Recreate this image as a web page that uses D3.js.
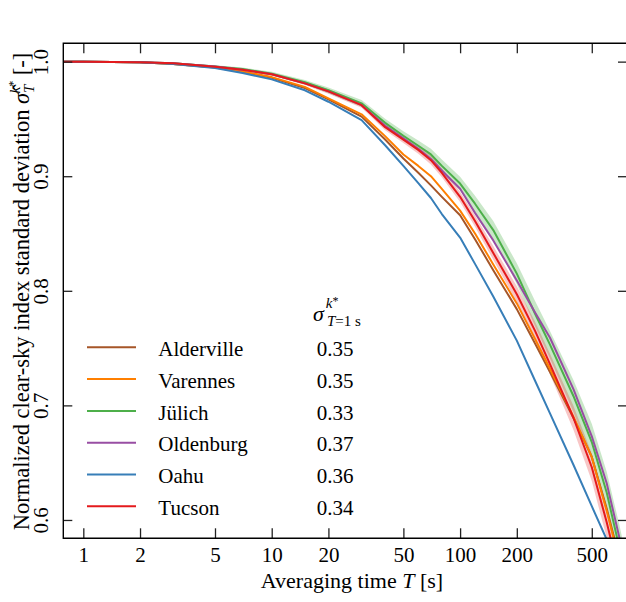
<!DOCTYPE html>
<html>
<head>
<meta charset="utf-8">
<script src="https://cdn.jsdelivr.net/npm/d3@7"></script>
<style>
body{margin:0;background:#fff;}
</style>
</head>
<body>
<svg id="chart" width="626" height="602" style="font-family:'Liberation Serif','Times New Roman',Times,'DejaVu Serif',serif"></svg>
<script>
//averaging time T [s]
let times = [0.5, 1, 2, 3, 5, 7, 10, 15, 20, 30, 40, 50, 60, 70, 80, 100, 120, 150, 200, 250, 300, 400, 500, 600, 700, 800]
//normalized clear-sky index std per site
let alderville = [1.0, 1.0, 0.9994, 0.998, 0.9948, 0.991, 0.986, 0.977, 0.967, 0.952, 0.932, 0.9155, 0.903, 0.892, 0.882, 0.866, 0.845, 0.818, 0.784, 0.754, 0.729, 0.689, 0.655, 0.610, 0.567, 0.53]
let varennes = [1.0, 1.0, 0.9994, 0.998, 0.995, 0.9915, 0.9865, 0.978, 0.968, 0.954, 0.935, 0.919, 0.909, 0.900, 0.889, 0.870, 0.850, 0.823, 0.789, 0.758, 0.732, 0.690, 0.655, 0.608, 0.565, 0.525]
let julich = [1.0, 1.0, 0.9995, 0.9985, 0.9958, 0.9935, 0.9895, 0.982, 0.975, 0.9636, 0.9466, 0.9353, 0.9266, 0.919, 0.909, 0.8936, 0.876, 0.853, 0.815, 0.780, 0.753, 0.708, 0.668, 0.624, 0.576, 0.532]
let oldenburg = [1.0, 1.0, 0.9995, 0.9985, 0.9957, 0.993, 0.989, 0.981, 0.974, 0.962, 0.944, 0.933, 0.924, 0.915, 0.905, 0.889, 0.868, 0.844, 0.809, 0.781, 0.759, 0.714, 0.673, 0.632, 0.585, 0.535]
let oahu = [1.0, 1.0, 0.9994, 0.998, 0.9945, 0.990, 0.9845, 0.975, 0.965, 0.949, 0.927, 0.909, 0.894, 0.881, 0.867, 0.8465, 0.8235, 0.795, 0.7565, 0.7215, 0.693, 0.648, 0.612, 0.583, 0.558, 0.537]
let tucson = [1.0, 1.0, 0.9995, 0.9985, 0.9956, 0.993, 0.989, 0.981, 0.974, 0.962, 0.9428, 0.932, 0.923, 0.914, 0.903, 0.882, 0.861, 0.833, 0.797, 0.765, 0.736, 0.689, 0.646, 0.598, 0.553, 0.516]
//half width of the shaded bands
let julichBand = [0, 0, 0.0005, 0.0008, 0.001, 0.0013, 0.0016, 0.002, 0.0025, 0.003, 0.0035, 0.004, 0.0045, 0.005, 0.0055, 0.006, 0.007, 0.008, 0.009, 0.011, 0.012, 0.014, 0.016, 0.018, 0.02, 0.02]
let tucsonBand = [0, 0, 0.0004, 0.0006, 0.0008, 0.001, 0.0012, 0.0015, 0.002, 0.0023, 0.0027, 0.003, 0.0034, 0.0038, 0.004, 0.0045, 0.005, 0.006, 0.007, 0.008, 0.009, 0.0105, 0.012, 0.0135, 0.015, 0.015]

let siteNames = ["Alderville", "Varennes", "Jülich", "Oldenburg", "Oahu", "Tucson"]
let siteSigma = ["0.35", "0.35", "0.33", "0.37", "0.36", "0.34"]
let siteColors = ["#a65628", "#ff7f00", "#4daf4a", "#984ea3", "#377eb8", "#e41a1c"]
let siteValues = [alderville, varennes, julich, oldenburg, oahu, tucson]

let xTicks = [1, 2, 5, 10, 20, 50, 100, 200, 500]
let yTicks = [0.6, 0.7, 0.8, 0.9, 1.0]

let svg = d3.select("#chart")
let plotLeft = 63.3, plotRight = 627, plotTop = 43.3, plotBottom = 538.3

let x = d3.scaleLog().domain([0.783, 769]).range([plotLeft, plotRight])
let y = d3.scaleLinear().domain([0.584, 1.016]).range([plotBottom, plotTop])

svg.append("defs").append("clipPath").attr("id", "plotClip")
    .append("rect").attr("x", plotLeft).attr("y", plotTop).attr("width", plotRight - plotLeft).attr("height", plotBottom - plotTop)

let plot = svg.append("g").attr("clip-path", "url(#plotClip)")

//shaded bands (Jülich, Tucson)
let bandArea = function (vals, half) {
    return d3.area()
        .x(function (d, i) { return x(times[i]) })
        .y0(function (d, i) { return y(vals[i] - half[i]) })
        .y1(function (d, i) { return y(vals[i] + half[i]) })(times)
}
plot.append("path").attr("d", bandArea(julich, julichBand)).attr("fill", "#4daf4a").attr("opacity", 0.3)
plot.append("path").attr("d", bandArea(tucson, tucsonBand)).attr("fill", "#e41a1c").attr("opacity", 0.25)

//curves
let line = d3.line()
    .x(function (d, i) { return x(times[i]) })
    .y(function (d) { return y(d) })
siteValues.forEach(function (vals, k) {
    plot.append("path")
        .attr("d", line(vals))
        .attr("fill", "none")
        .attr("stroke", siteColors[k])
        .attr("stroke-width", 2)
        .attr("stroke-linejoin", "round")
})

//axes (ticks inward on all four sides)
let fontSize = 21
let axisStyle = function (g) {
    g.attr("font-family", null)
    g.select(".domain").remove()
    g.selectAll(".tick line").attr("stroke", "#222").attr("stroke-width", 1.3)
    g.selectAll("text").attr("font-size", fontSize).attr("fill", "#000")
}
svg.append("g").attr("transform", `translate(0,${plotBottom})`)
    .call(d3.axisBottom(x).tickValues(xTicks).tickFormat(d3.format("d")).tickSizeInner(-10).tickSizeOuter(0).tickPadding(9))
    .call(axisStyle)
svg.append("g").attr("transform", `translate(0,${plotTop})`)
    .call(d3.axisTop(x).tickValues(xTicks).tickFormat("").tickSizeInner(-10).tickSizeOuter(0))
    .call(axisStyle)
let yAxis = svg.append("g").attr("transform", `translate(${plotLeft},0)`)
    .call(d3.axisLeft(y).tickValues(yTicks).tickFormat(d3.format(".1f")).tickSizeInner(-9).tickSizeOuter(0))
    .call(axisStyle)
yAxis.selectAll(".tick text")
    .attr("transform", "rotate(-90)")
    .attr("text-anchor", "middle")
    .attr("x", 0).attr("y", -15.5).attr("dy", 0)
svg.append("g").attr("transform", `translate(${plotRight},0)`)
    .call(d3.axisRight(y).tickValues(yTicks).tickFormat("").tickSizeInner(-9).tickSizeOuter(0))
    .call(axisStyle)

//frame
svg.append("path")
    .attr("d", `M${plotRight},${plotTop}H${plotLeft}V${plotBottom}H${plotRight}`)
    .attr("fill", "none").attr("stroke", "#000").attr("stroke-width", 1.4)

//axis labels
let xLabel = svg.append("text").attr("x", 352).attr("y", 588).attr("text-anchor", "middle").attr("font-size", 22)
xLabel.append("tspan").text("Averaging time ")
xLabel.append("tspan").attr("font-style", "italic").text("T")
xLabel.append("tspan").text(" [s]")

let yLabel = svg.append("text").attr("transform", "translate(29,291.5) rotate(-90)").attr("text-anchor", "middle").attr("font-size", 22.5)
yLabel.append("tspan").text("Normalized clear-sky index standard deviation ")
yLabel.append("tspan").attr("font-style", "italic").text("σ\u0302")
yLabel.append("tspan").attr("font-style", "italic").attr("font-size", 15).attr("dy", 5).text("T")
yLabel.append("tspan").attr("font-style", "italic").attr("font-size", 15).attr("dx", -9).attr("dy", -14).text("k")
yLabel.append("tspan").attr("font-size", 12).attr("dy", -3).text("*")
yLabel.append("tspan").attr("dy", 12).text(" [-]")

//legend
let legend = svg.append("g")
let header = legend.append("text").attr("x", 313).attr("y", 321).attr("font-size", 22)
header.append("tspan").attr("font-style", "italic").text("σ")
header.append("tspan").attr("font-style", "italic").attr("font-size", 15).attr("dy", -13).attr("dx", 2).text("k")
header.append("tspan").attr("font-size", 12).attr("dy", -3).text("*")
header.append("tspan").attr("font-style", "italic").attr("font-size", 15).attr("x", 327).attr("dy", 21).text("T")
header.append("tspan").attr("font-size", 15).text("=1 s")

let rowY = d3.scaleLinear().domain([0, 5]).range([356, 515])
siteNames.forEach(function (name, k) {
    let by = rowY(k)
    legend.append("line")
        .attr("x1", 87).attr("x2", 136).attr("y1", by - 8.7).attr("y2", by - 8.7)
        .attr("stroke", siteColors[k]).attr("stroke-width", 2)
    legend.append("text").attr("x", 158.3).attr("y", by).attr("font-size", fontSize).text(name)
    legend.append("text").attr("x", 316.7).attr("y", by).attr("font-size", fontSize).text(siteSigma[k])
})
</script>
</body>
</html>
